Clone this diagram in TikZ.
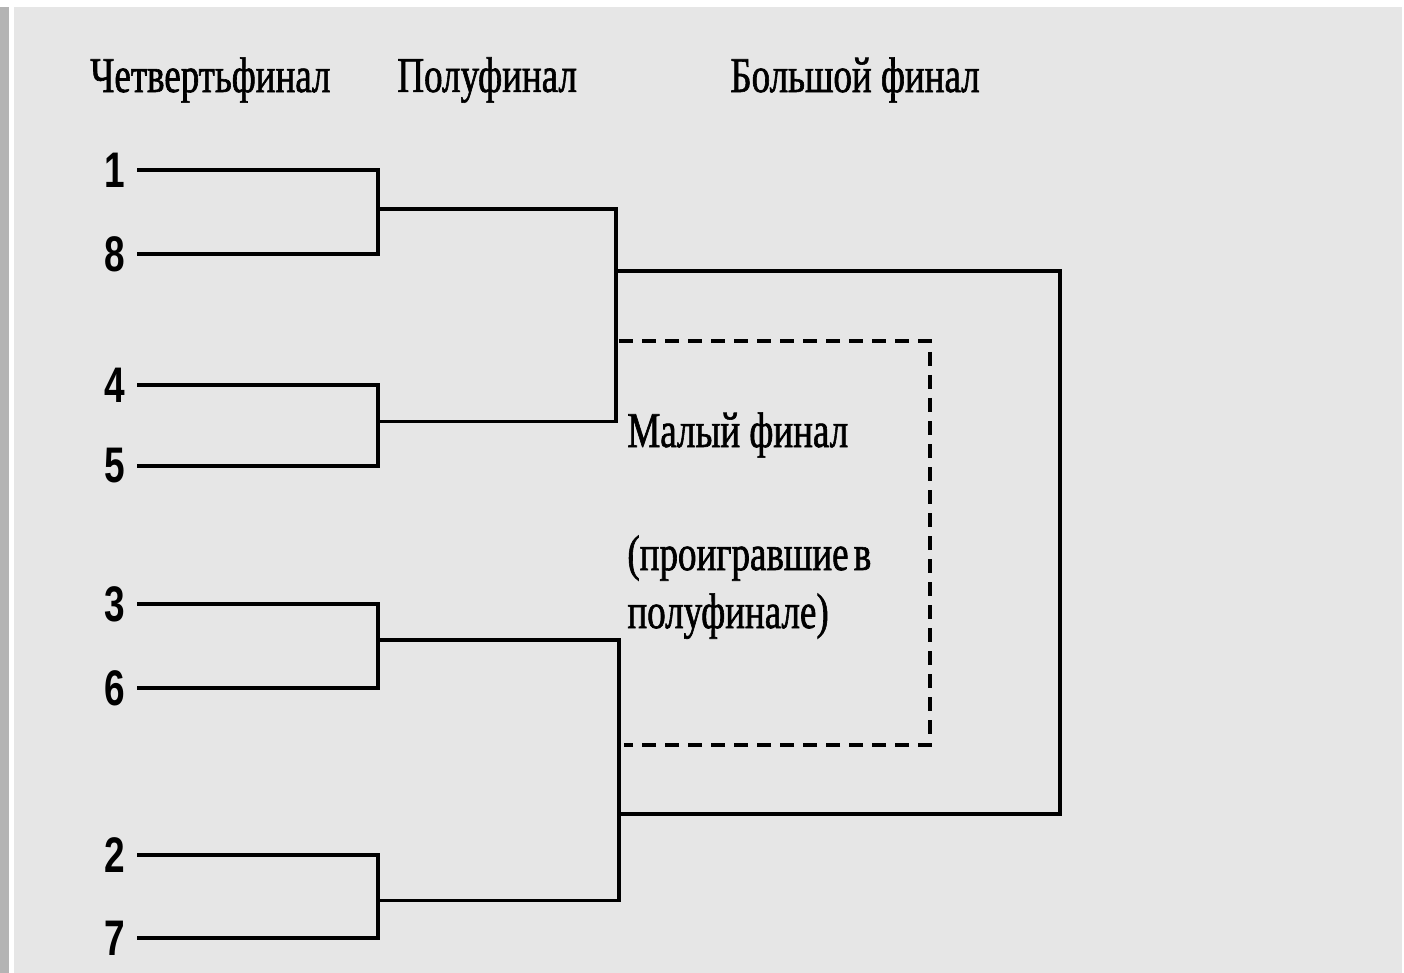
\documentclass[tikz,border=0pt]{standalone}
\usepackage{fontspec}
\newfontfamily\headfont[FakeStretch=0.74,FakeBold=1.2]{Liberation Serif}
\newfontfamily\seedfont[FakeStretch=0.74]{Liberation Sans}
\definecolor{paper}{HTML}{E6E6E6}
\definecolor{edge}{HTML}{B4B4B4}
\tikzset{
    seed/.style={font=\seedfont\bfseries\fontsize{25}{27}\selectfont,anchor=east,inner xsep=6pt,inner ysep=0pt},
    title/.style={font=\headfont\fontsize{25}{28}\selectfont,anchor=west,inner sep=0pt},
    bracket/.style={line width=1.6pt},
    loser/.style={line width=1.6pt,dash pattern=on 7pt off 4.5pt}
}
\begin{document}
\begin{tikzpicture}[x=0.5pt,y=-0.5pt]
\useasboundingbox (0,0) rectangle (1404,973);
\fill[white] (0,0) rectangle (1404,973);
\fill[edge] (0,7) rectangle (9,973);
\fill[paper] (14,7) rectangle (1402,973);
% round names
\node[title] (quarter) at (90,80) {Четвертьфинал};
\node[title] (semi) at (397,80) {Полуфинал};
\node[title] (final) at (730,80) {Большой финал};
% quarterfinals
\foreach \a/\b/\ya/\yb/\n/\d in {1/8/170/254/A/-3,4/5/385/466/B/-4,3/6/604/688/C/-6,2/7/855/938/D/4}
{
    \node[seed] (q\a) at (137,\ya) {\a};
    \node[seed] (q\b) at (137,\yb) {\b};
    \coordinate (m\n) at (378,{(\ya+\yb)/2+\d});
    \draw[bracket] (q\a.east) -| (m\n) |- (q\b.east);
}
% semifinals
\coordinate (top) at (616,271);
\coordinate (bot) at (619,814);
\draw[bracket] (mA) -| (top) |- (mB);
\draw[bracket] (mC) -| (bot) |- (mD);
% grand final
\coordinate (gf) at (1060,540);
\draw[bracket] (top) -| (gf) |- (bot);
% third place
\coordinate (dt) at (619,341);
\coordinate (db) at (624,745);
\coordinate (dr) at (930,540);
\draw[loser] (dt) -| (dr) |- (db);
\node[title] (small) at (627,435) {Малый финал};
\node[title,align=left,anchor=north west] (lost) at (627,535) {(проигравшие\hspace{-2pt} в\\[1pt]полуфинале)};
\end{tikzpicture}
\end{document}
